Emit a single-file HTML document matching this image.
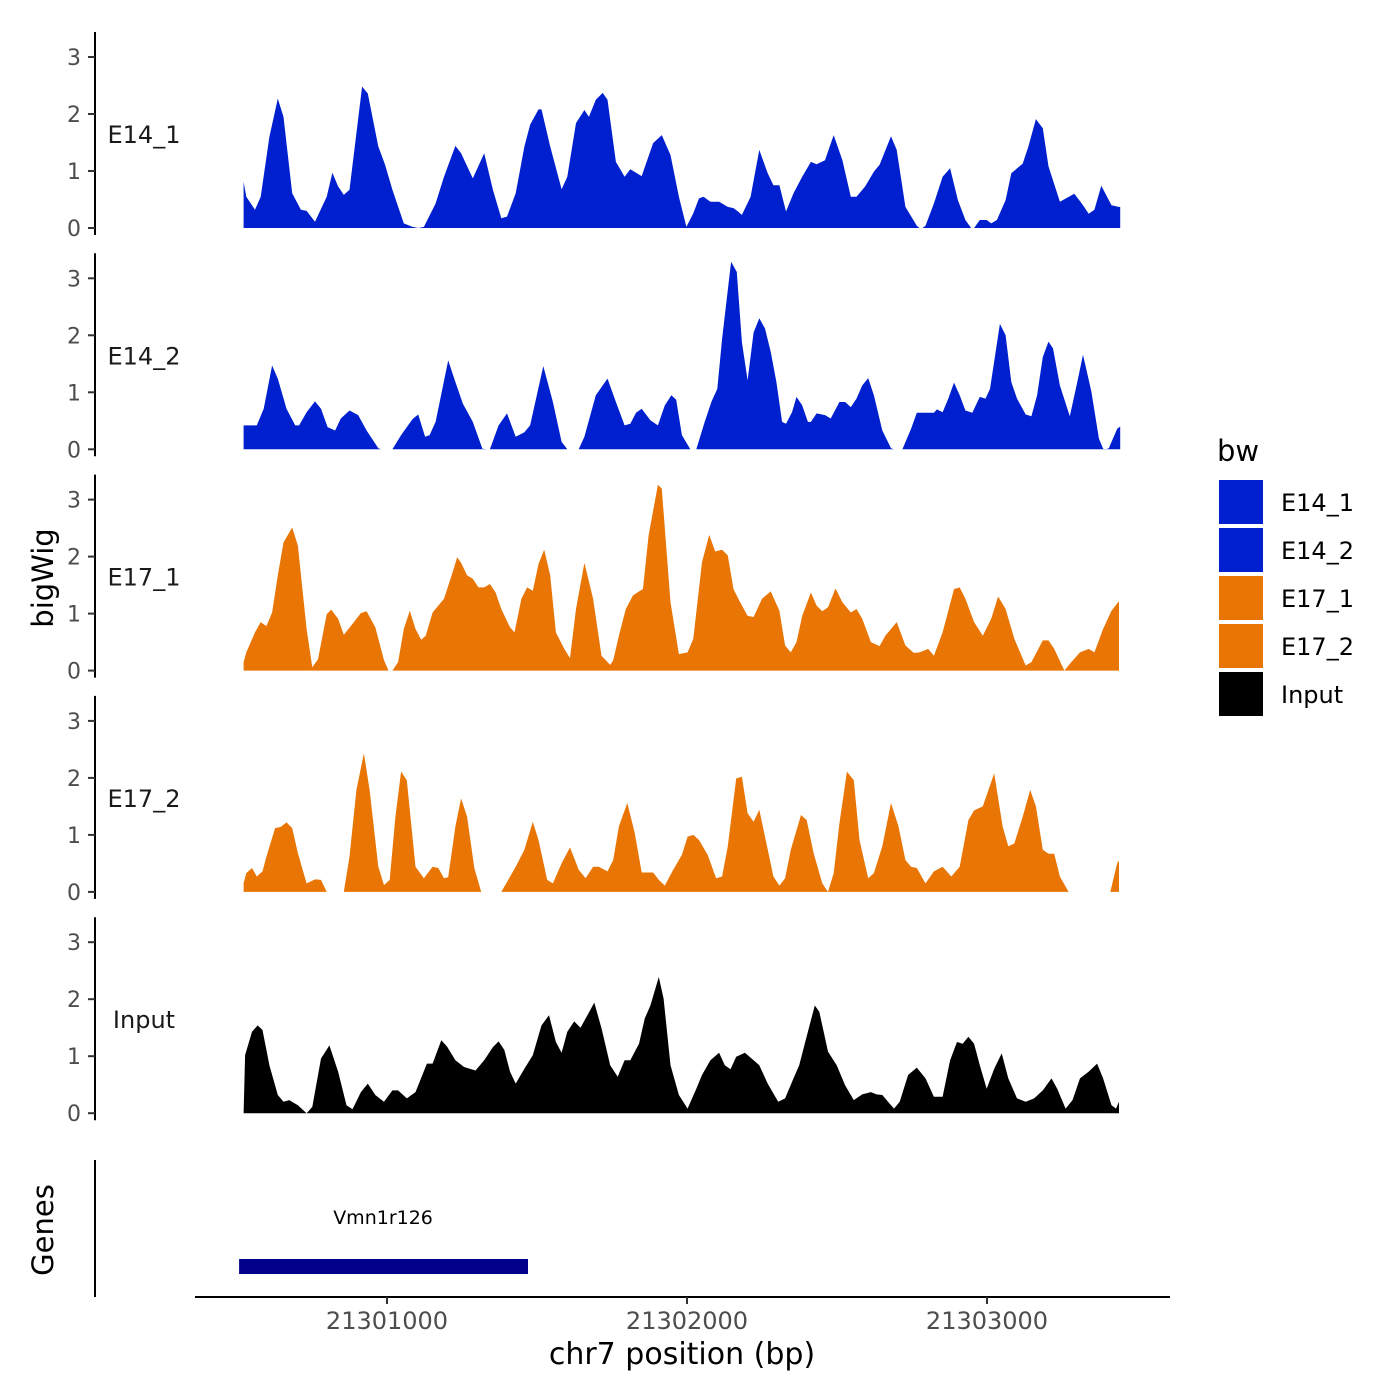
<!DOCTYPE html>
<html><head><meta charset="utf-8"><style>
html,body{margin:0;padding:0;background:#fff;}
svg{display:block;font-family:"DejaVu Sans","Liberation Sans",sans-serif;}
</style></head><body>
<svg id="chart" width="1400" height="1400" viewBox="0 0 1400 1400" xmlns="http://www.w3.org/2000/svg">
<rect width="1400" height="1400" fill="#fff"/>
<g id="tracks"></g>
<text transform="translate(53,578) rotate(-90)" text-anchor="middle" font-size="29" fill="#000">bigWig</text>
<text transform="translate(53,1230) rotate(-90)" text-anchor="middle" font-size="29" fill="#000">Genes</text>
<line x1="95" y1="1160" x2="95" y2="1297" stroke="#000" stroke-width="2"/>
<g id="genes"></g>
<line x1="195" y1="1297" x2="1170" y2="1297" stroke="#000" stroke-width="2"/>
<g id="xaxis"></g>
<text x="682" y="1364" text-anchor="middle" font-size="30" fill="#000">chr7 position (bp)</text>
<g>
<text x="1217" y="461" font-size="29" fill="#000">bw</text>
<g id="legend"></g>
</g>
</svg>
<script>
const chromTicks = [21301000, 21302000, 21303000];
const trackNames = ["E14_1","E14_2","E17_1","E17_2","Input"];
const trackColors = ["#0020D0","#0020D0","#E87504","#E87504","#000000"];
const yTicks = [0,1,2,3];

const pos1 = [522,531,560,579,608,636,655,684,713,732,760,799,818,837,856,875,917,936,971,993,1018,1056,1085,1104,1123,1162,1190,1228,1247,1286,1324,1353,1381,1400,1429,1458,1477,1505,1515,1544,1582,1601,1630,1658,1673,1696,1719,1735,1763,1792,1811,1849,1887,1916,1945,1973,1998,2021,2040,2055,2078,2107,2136,2155,2170,2183,2212,2241,2269,2288,2308,2330,2355,2384,2413,2432,2460,2489,2518,2546,2565,2594,2623,2642,2680,2699,2728,2766,2775,2785,2795,2823,2852,2877,2903,2928,2947,2957,2976,2999,3014,3033,3062,3081,3119,3138,3163,3186,3205,3243,3291,3316,3339,3358,3381,3415,3438,3444];
const val1 = [0.81,0.55,0.32,0.55,1.60,2.27,1.95,0.61,0.32,0.30,0.11,0.55,0.97,0.73,0.58,0.67,2.48,2.36,1.43,1.12,0.67,0.08,0.02,0,0.02,0.43,0.90,1.44,1.31,0.87,1.31,0.67,0.17,0.20,0.61,1.43,1.81,2.08,2.08,1.43,0.68,0.90,1.84,2.07,1.95,2.25,2.37,2.25,1.16,0.90,1.03,0.91,1.49,1.63,1.28,0.55,0.02,0.26,0.52,0.55,0.46,0.46,0.37,0.35,0.29,0.23,0.55,1.37,0.96,0.75,0.75,0.29,0.61,0.90,1.16,1.12,1.19,1.63,1.19,0.55,0.55,0.73,0.99,1.11,1.61,1.37,0.37,0.04,0,0,0.04,0.43,0.90,1.05,0.49,0.14,0,0,0.14,0.14,0.08,0.14,0.49,0.96,1.13,1.43,1.91,1.75,1.08,0.46,0.60,0.43,0.25,0.32,0.74,0.40,0.37,0.37];

const pos2 = [522,530,566,589,617,636,665,694,707,732,760,780,802,827,846,875,904,932,971,980,1018,1047,1085,1104,1127,1142,1162,1204,1228,1253,1286,1318,1333,1343,1372,1400,1429,1458,1477,1521,1553,1582,1601,1639,1658,1696,1735,1763,1792,1811,1830,1849,1878,1903,1926,1948,1964,1983,2011,2031,2059,2082,2101,2117,2147,2166,2183,2202,2222,2241,2260,2279,2298,2317,2330,2350,2365,2384,2403,2413,2432,2460,2479,2508,2527,2546,2565,2584,2604,2623,2651,2680,2690,2718,2747,2766,2823,2833,2852,2871,2890,2909,2928,2951,2976,2995,3010,3043,3062,3081,3100,3129,3148,3167,3186,3205,3220,3243,3276,3301,3320,3348,3373,3387,3396,3406,3434,3444];
const val2 = [0.42,0.42,0.42,0.71,1.47,1.24,0.71,0.42,0.42,0.65,0.84,0.71,0.39,0.33,0.54,0.68,0.60,0.33,0.02,0,0,0.25,0.53,0.61,0.22,0.25,0.48,1.56,1.18,0.80,0.48,0.01,0,0,0.42,0.63,0.22,0.30,0.42,1.46,0.83,0.13,0,0,0.22,0.95,1.24,0.83,0.42,0.45,0.64,0.71,0.51,0.42,0.77,0.95,0.87,0.25,0,0,0.48,0.84,1.06,1.94,3.29,3.11,1.88,1.21,2.05,2.30,2.12,1.71,1.18,0.48,0.45,0.65,0.92,0.77,0.48,0.48,0.63,0.60,0.54,0.83,0.83,0.74,0.89,1.12,1.25,0.95,0.33,0.02,0,0,0.36,0.64,0.64,0.70,0.65,0.89,1.17,0.95,0.68,0.64,0.92,0.89,1.06,2.20,2.00,1.18,0.89,0.61,0.58,0.95,1.62,1.89,1.77,1.12,0.58,1.18,1.66,1.01,0.19,0.01,0,0.02,0.36,0.40];

const pos3 = [522,531,560,579,598,617,636,655,684,703,732,751,770,799,814,837,856,885,913,932,961,990,1005,1018,1037,1056,1076,1095,1114,1129,1152,1190,1219,1234,1247,1267,1286,1305,1324,1343,1362,1381,1410,1425,1448,1467,1486,1505,1524,1544,1563,1591,1610,1630,1658,1687,1715,1744,1754,1773,1796,1820,1840,1853,1872,1903,1916,1945,1973,2002,2021,2050,2074,2094,2117,2136,2155,2174,2202,2222,2250,2279,2308,2327,2346,2365,2384,2413,2432,2451,2470,2495,2518,2546,2565,2584,2613,2642,2661,2699,2728,2756,2775,2804,2823,2852,2890,2909,2928,2957,2986,3014,3037,3062,3091,3129,3148,3186,3205,3224,3258,3281,3310,3339,3358,3387,3415,3440];
const val3 = [0.15,0.32,0.67,0.85,0.78,1.02,1.67,2.25,2.51,2.19,0.73,0.06,0.20,0.99,1.07,0.91,0.63,0.82,1.01,1.04,0.76,0.18,0,0,0.15,0.73,1.05,0.73,0.54,0.61,1.02,1.26,1.73,1.99,1.89,1.67,1.61,1.46,1.46,1.52,1.37,1.08,0.76,0.67,1.26,1.46,1.40,1.87,2.12,1.67,0.67,0.38,0.22,1.08,1.89,1.26,0.26,0.10,0.18,0.61,1.08,1.32,1.39,1.43,2.37,3.26,3.19,1.20,0.29,0.32,0.56,1.90,2.38,2.09,2.12,2.02,1.43,1.23,0.96,0.94,1.26,1.39,1.05,0.44,0.32,0.50,0.96,1.37,1.14,1.04,1.11,1.44,1.20,1.02,1.08,0.91,0.50,0.43,0.61,0.85,0.44,0.31,0.32,0.38,0.26,0.67,1.43,1.46,1.26,0.85,0.61,0.91,1.30,1.08,0.56,0.09,0.15,0.53,0.53,0.38,0,0.15,0.32,0.38,0.32,0.73,1.05,1.22];

const pos4 = [522,531,550,566,585,598,627,646,665,684,703,732,760,780,799,856,875,898,923,942,971,990,1009,1028,1047,1066,1095,1123,1152,1171,1190,1204,1228,1247,1267,1291,1314,1381,1429,1458,1486,1505,1534,1553,1582,1610,1639,1662,1687,1706,1735,1754,1773,1801,1826,1849,1887,1906,1926,1954,1983,2002,2021,2040,2069,2097,2117,2136,2164,2183,2202,2222,2241,2260,2288,2308,2327,2346,2380,2399,2422,2451,2470,2489,2508,2533,2556,2575,2604,2623,2651,2680,2705,2728,2747,2766,2795,2823,2852,2881,2909,2938,2957,2986,3005,3024,3052,3071,3091,3119,3144,3163,3186,3205,3224,3243,3272,3411,3434,3440];
const val4 = [0.15,0.33,0.42,0.27,0.36,0.62,1.12,1.14,1.22,1.12,0.68,0.15,0.22,0.21,0,0,0.62,1.79,2.43,1.79,0.44,0.12,0.21,1.32,2.11,1.96,0.44,0.24,0.44,0.42,0.24,0.26,1.15,1.64,1.32,0.42,0,0,0.44,0.74,1.23,0.91,0.21,0.15,0.50,0.78,0.39,0.24,0.44,0.44,0.36,0.56,1.15,1.56,1.03,0.34,0.34,0.21,0.11,0.39,0.65,0.97,1.00,0.91,0.65,0.24,0.27,0.80,1.99,2.02,1.38,1.23,1.44,0.97,0.27,0.11,0.24,0.74,1.35,1.26,0.68,0.15,0,0.33,1.20,2.11,1.96,0.91,0.24,0.33,0.80,1.56,1.15,0.56,0.44,0.42,0.15,0.36,0.44,0.27,0.44,1.26,1.43,1.50,1.79,2.08,1.15,0.80,0.85,1.32,1.79,1.50,0.74,0.67,0.67,0.27,0,0,0.50,0.55];

const pos5 = [522,527,550,569,585,608,636,655,674,703,732,751,780,808,837,865,885,913,936,961,990,1018,1037,1066,1095,1133,1152,1181,1200,1228,1257,1295,1324,1353,1372,1391,1410,1429,1458,1486,1515,1540,1563,1582,1601,1624,1645,1668,1691,1715,1744,1769,1792,1811,1840,1859,1878,1906,1922,1945,1973,2002,2031,2050,2078,2107,2126,2145,2164,2193,2222,2241,2269,2304,2327,2355,2374,2403,2426,2441,2470,2499,2527,2556,2584,2613,2632,2651,2670,2690,2709,2737,2766,2795,2823,2852,2877,2900,2919,2938,2957,2976,2999,3024,3049,3071,3100,3129,3157,3186,3215,3234,3262,3285,3310,3339,3367,3387,3415,3430,3440];
const val5 = [0,1.02,1.43,1.54,1.46,0.84,0.32,0.20,0.23,0.14,0,0.11,0.96,1.19,0.73,0.14,0.07,0.37,0.52,0.32,0.20,0.40,0.40,0.26,0.37,0.87,0.87,1.28,1.17,0.93,0.81,0.75,0.93,1.16,1.26,1.11,0.73,0.52,0.78,1.02,1.54,1.72,1.25,1.06,1.43,1.61,1.50,1.72,1.94,1.49,0.84,0.64,0.93,0.93,1.22,1.66,1.89,2.39,2.01,0.84,0.32,0.08,0.43,0.67,0.93,1.06,0.84,0.77,0.99,1.06,0.93,0.84,0.52,0.20,0.26,0.61,0.84,1.43,1.89,1.78,1.08,0.84,0.49,0.23,0.33,0.37,0.33,0.32,0.20,0.08,0.20,0.67,0.80,0.61,0.29,0.29,0.93,1.25,1.22,1.34,1.22,0.84,0.43,0.78,1.05,0.61,0.26,0.20,0.26,0.40,0.61,0.43,0.08,0.23,0.61,0.73,0.87,0.61,0.14,0.08,0.20];

const geneNames = ["Vmn1r126"];
const geneStarts = [21300507];
const geneEnds = [21301470];

const positions = [pos1,pos2,pos3,pos4,pos5];
const values = [val1,val2,val3,val4,val5];
const posOrigin = 21300000;

const NS = "http://www.w3.org/2000/svg";
function xScale(bp){ return 387 + (bp - 21301000) * 0.3; }
function trackBase(i){ return 228 + 221.3 * i; }
function yScale(i, v){ return trackBase(i) - 57 * v; }
function mk(tag, attrs, parent){
  const e = document.createElementNS(NS, tag);
  for (const k in attrs) e.setAttribute(k, attrs[k]);
  parent.appendChild(e);
  return e;
}
const tracks = document.getElementById('tracks');
for (let i = 0; i < trackNames.length; i++) {
  const g = mk('g', {}, tracks);
  
  
  const base = trackBase(i);
  const ax = mk('line', {x1:95, y1:base-196, x2:95, y2:base+7, stroke:'#000','stroke-width':2}, g);
  
  
  for (const t of yTicks) {
    const y = yScale(i, t);
    const tk = mk('line', {x1:88, y1:y, x2:95, y2:y, stroke:'#333','stroke-width':2}, g);
    
    
    const tl = mk('text', {x:81, y:y+8, 'text-anchor':'end','font-size':22, fill:'#4d4d4d'}, g);
    tl.textContent = t;
    
    
  }
  const lab = mk('text', {x:144, y:base-85, 'text-anchor':'middle','font-size':24, fill:'#1a1a1a'}, g);
  lab.textContent = trackNames[i];
  
  
  const P = positions[i], V = values[i];
  let d = 'M' + xScale(posOrigin + P[0]).toFixed(1) + ',' + base;
  for (let j = 0; j < P.length; j++) {
    d += 'L' + xScale(posOrigin + P[j]).toFixed(1) + ',' + yScale(i, V[j]).toFixed(1);
  }
  d += 'L' + xScale(posOrigin + P[P.length-1]).toFixed(1) + ',' + base + 'Z';
  const area = mk('path', {d:d, fill:trackColors[i]}, g);
  
  
}
const genes = document.getElementById('genes');
for (let k = 0; k < geneNames.length; k++) {
  const x1 = xScale(geneStarts[k]), x2 = xScale(geneEnds[k]);
  const r = mk('rect', {x:x1, y:1259, width:x2-x1, height:15, fill:'#00008B'}, genes);
  
  
  const t = mk('text', {x:(x1+x2)/2 - 0.5, y:1224, 'text-anchor':'middle','font-size':19, fill:'#000'}, genes);
  t.textContent = geneNames[k];
  
  
}
const xa = document.getElementById('xaxis');
for (const t of chromTicks) {
  const x = xScale(t);
  const l = mk('line', {x1:x, y1:1297, x2:x, y2:1304, stroke:'#333','stroke-width':2}, xa);
  
  
  const tx = mk('text', {x:x, y:1329, 'text-anchor':'middle','font-size':24, fill:'#4d4d4d'}, xa);
  tx.textContent = t;
  
  
}
const lg = document.getElementById('legend');
for (let i = 0; i < trackNames.length; i++) {
  const y = 480 + 48 * i;
  const key = mk('rect', {x:1219, y:y, width:44, height:44, fill:trackColors[i]}, lg);
  
  
  const tx = mk('text', {x:1281, y:y+31, 'font-size':24, fill:'#000'}, lg);
  tx.textContent = trackNames[i];
  
  
}
</script>
</body></html>
